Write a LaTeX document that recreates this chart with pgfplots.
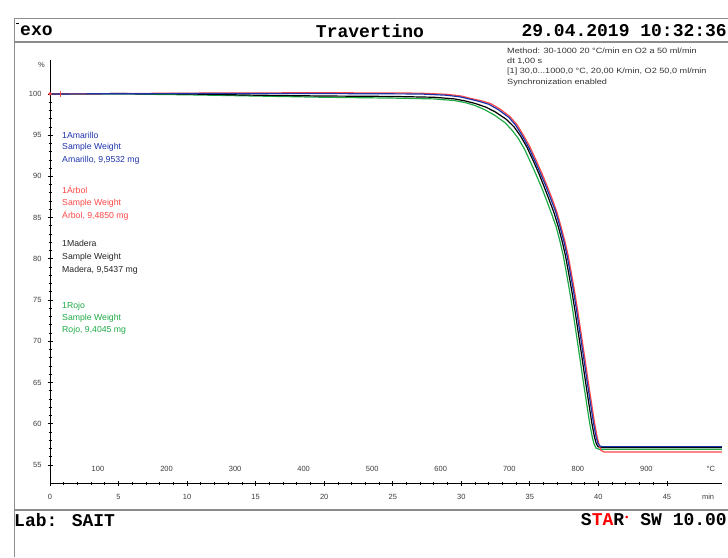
\documentclass[border=0pt]{standalone}
\usepackage{fontspec}
\setmainfont{Liberation Sans}
\newfontfamily\monob{Liberation Mono}
\newfontfamily\methfont[FakeStretch=1.2]{Liberation Sans}
\usepackage{pgfplots}
\pgfplotsset{compat=1.18}
\definecolor{cblue}{RGB}{30,50,170}
\definecolor{cred}{RGB}{255,70,70}
\definecolor{cgreen}{RGB}{30,170,70}
\definecolor{cframe}{RGB}{140,140,140}
\definecolor{ticklab}{RGB}{60,60,60}

\pgfplotstableread{
t p
0 100.0
10 100.1
20 100.15
27 100.1
29 99.95
30.0 99.75
30.63 99.48
31.4 99.2
32.09 98.87
32.8 98.2
33.55 97.25
34.05 96.3
34.52 95.03
35.0 93.6
35.50 91.79
35.87 90.4
36.23 88.96
36.6 87.4
36.96 85.72
37.27 83.93
37.56 82.11
37.80 80.35
38.02 78.35
38.26 76.10
38.50 73.62
38.74 70.95
38.99 68.16
39.24 65.31
39.50 62.46
39.72 60.09
39.91 58.39
40.07 57.30
40.19 56.76
40.41 56.57
49 56.57
}\redtab

\pgfplotstableread{
t p
0 100.0
10 100.05
20 100.05
27 100.0
28.9 99.85
29.9 99.65
30.55 99.4
31.3 99.1
32.0 98.75
32.7 98.1
33.47 97.15
33.97 96.2
34.44 94.95
34.92 93.5
35.42 91.7
35.79 90.3
36.15 88.9
36.52 87.3
36.88 85.72
37.19 83.93
37.48 82.11
37.72 80.35
37.94 78.35
38.18 76.10
38.42 73.62
38.66 70.95
38.91 68.16
39.16 65.31
39.42 62.46
39.64 60.09
39.83 58.39
39.97 57.6
40.1 57.3
40.3 57.22
49 57.22
}\bluetab

\pgfplotstableread{
t p
0 100.0
5 100.05
10 100.0
15 99.85
20 99.75
25 99.7
28 99.6
29.5 99.4
30.3 99.15
31.0 98.85
31.8 98.4
32.5 97.8
33.3 96.9
33.85 96.0
34.32 94.9
34.8 93.5
35.3 91.7
35.67 90.3
36.03 88.8
36.4 87.2
36.76 85.6
37.07 83.93
37.36 82.11
37.60 80.35
37.82 78.35
38.06 76.10
38.30 73.62
38.54 70.95
38.79 68.16
39.04 65.31
39.30 62.46
39.52 60.09
39.71 58.39
39.85 57.55
39.98 57.2
40.2 57.1
49 57.1
}\blacktab

\pgfplotstableread{
t p
0 100.0
5 100.0
10 99.9
15 99.75
20 99.6
25 99.5
28 99.4
29.5 99.2
30.3 98.95
31.0 98.6
31.7 98.1
32.45 97.4
33.2 96.5
33.7 95.6
34.16 94.6
34.64 93.2
35.14 91.4
35.51 90.0
35.87 88.6
36.24 87.0
36.6 85.4
36.91 83.93
37.20 82.11
37.44 80.35
37.66 78.35
37.90 76.10
38.14 73.62
38.38 70.95
38.63 68.16
38.88 65.31
39.14 62.46
39.36 60.09
39.55 58.39
39.69 57.5
39.82 57.05
40.05 56.9
49 56.9
}\greentab

\begin{document}
\begin{tikzpicture}
\begin{scope}[x=1pt,y=1pt]
\path[use as bounding box] (0,0) rectangle (728,557);
\draw[cframe, line width=1pt] (14,538) -- (728,538);
\draw[cframe, line width=1pt] (14,538) -- (14,0);
\draw[cframe, line width=1.6pt] (14,515) -- (728,515);
\draw[cframe, line width=1.2pt] (14,47) -- (728,47);
% header
\draw[black, line width=0.8pt] (16,534) -- (19,534);
\node[anchor=west, inner sep=0pt, font=\monob\bfseries\fontsize{18}{18}\selectfont] at (20,526) {exo};
\node[anchor=center, inner sep=0pt, font=\monob\bfseries\fontsize{18}{18}\selectfont] at (370,526) {Travertino};
\node[anchor=east, inner sep=0pt, font=\monob\bfseries\fontsize{18}{18}\selectfont] at (727,526) {29.04.2019 10:32:36};
% footer
\node[anchor=west, inner sep=0pt, font=\monob\bfseries\fontsize{18}{18}\selectfont] at (14,37) {Lab: SAIT};
\node[anchor=east, inner sep=0pt, font=\monob\bfseries\fontsize{18}{18}\selectfont] at (727,37) {S\textcolor{red}{TA}R\textcolor{red}{\raisebox{5pt}{\fontsize{9}{9}\selectfont\textbullet}} SW 10.00};
% method text
\begin{scope}[every node/.style={anchor=west, inner sep=0pt, text=black!80, font=\methfont\fontsize{7.6}{8}\selectfont}]
\node at (507,506) {Method: 30-1000 20 °C/min en O2 a 50 ml/min};
\node at (507,496) {dt 1,00 s};
\node at (507,485) {[1] 30,0...1000,0 °C, 20,00 K/min, O2 50,0 ml/min};
\node at (507,474) {Synchronization enabled};
\end{scope}
% sample labels
\begin{scope}[every node/.style={anchor=west, inner sep=0pt, font=\fontsize{8.7}{9}\selectfont}]
\node[text=cblue] at (62,422) {1Amarillo};
\node[text=cblue] at (62,410) {Sample Weight};
\node[text=cblue] at (62,397) {Amarillo, 9,9532 mg};
\node[text=cred] at (62,367) {1Árbol};
\node[text=cred] at (62,354) {Sample Weight};
\node[text=cred] at (62,341) {Árbol, 9,4850 mg};
\node[text=black!85] at (62,314) {1Madera};
\node[text=black!85] at (62,300) {Sample Weight};
\node[text=black!85] at (62,287) {Madera, 9,5437 mg};
\node[text=cgreen] at (62,251) {1Rojo};
\node[text=cgreen] at (62,239) {Sample Weight};
\node[text=cgreen] at (62,227) {Rojo, 9,4045 mg};
\end{scope}
\node[anchor=east, inner sep=0pt, text=ticklab, font=\fontsize{7.5}{8}\selectfont] at (45,492) {\%};
\end{scope}

\begin{axis}[
  at={(50pt,74pt)}, anchor=south west,
  scale only axis, width=671.8pt, height=423pt,
  xmin=0, xmax=49, ymin=52.81, ymax=104.12,
  axis x line*=bottom, axis y line*=left,
  axis line style={black, line width=0.9pt},
  xtick={0,5,...,45}, ytick={55,60,...,100},
  minor x tick num=4, minor y tick num=4,
  tick align=center, major tick length=5pt, minor tick length=3pt,
  every tick/.style={black, line width=0.8pt},
  ticklabel style={font=\fontsize{7.5}{8}\selectfont, text=ticklab},
  /pgf/number format/assume math mode=true,
  xticklabel style={yshift=-5pt},
  yticklabel style={xshift=-2.5pt},
  clip=false,
]
\addplot[cgreen, line width=1.2pt] table[x=t,y=p] {\greentab};
\addplot[black, line width=1.2pt] table[x=t,y=p] {\blacktab};
\addplot[cred, line width=1.2pt] table[x=t,y=p] {\redtab};
\addplot[cblue, line width=1.2pt] table[x=t,y=p] {\bluetab};
\addplot[cred, only marks, mark=|, mark size=3pt, line width=1pt] coordinates {(0.73,100)};
\addplot[cred, only marks, mark=*, mark size=1.5pt] coordinates {(0,100)};
\begin{scope}[every node/.style={inner sep=0pt, text=ticklab, font=\fontsize{7.5}{8}\selectfont}]
\node at (axis cs:3.5,52.81) [yshift=14pt] {100};
\node at (axis cs:8.5,52.81) [yshift=14pt] {200};
\node at (axis cs:13.5,52.81) [yshift=14pt] {300};
\node at (axis cs:18.5,52.81) [yshift=14pt] {400};
\node at (axis cs:23.5,52.81) [yshift=14pt] {500};
\node at (axis cs:28.5,52.81) [yshift=14pt] {600};
\node at (axis cs:33.5,52.81) [yshift=14pt] {700};
\node at (axis cs:38.5,52.81) [yshift=14pt] {800};
\node at (axis cs:43.5,52.81) [yshift=14pt] {900};
\node at (axis cs:48.2,52.81) [yshift=14pt] {°C};
\node at (axis cs:48.0,52.81) [yshift=-14pt] {min};
\end{scope}
\end{axis}
\end{tikzpicture}
\end{document}
